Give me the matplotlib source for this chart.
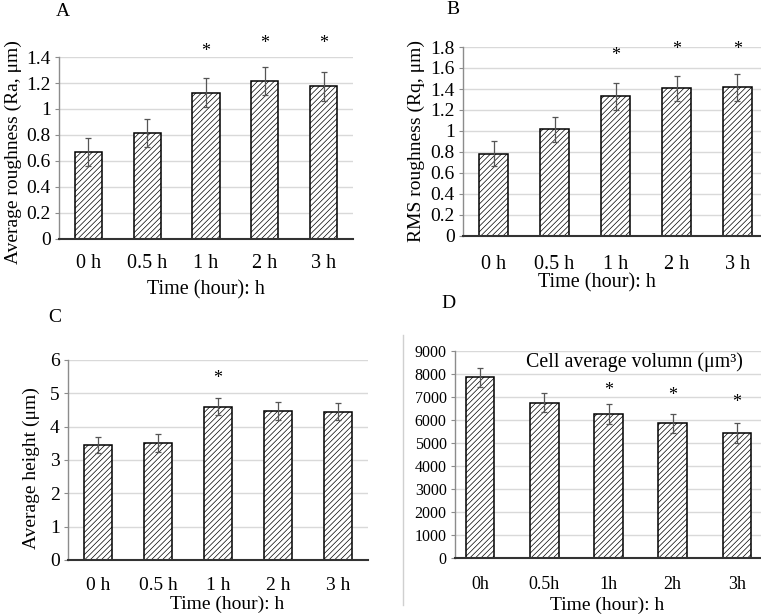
import matplotlib
matplotlib.use("Agg")
import matplotlib.pyplot as plt
from matplotlib import ticker
from matplotlib.lines import Line2D

plt.rcParams['font.family'] = ['Liberation Serif', 'DejaVu Serif']
plt.rcParams['hatch.color'] = '#808080'
plt.rcParams['hatch.linewidth'] = 0.5

# data
times = ["0 h", "0.5 h", "1 h", "2 h", "3 h"]
times_d = ["0h", "0.5h", "1h", "2h", "3h"]

ra = [0.67, 0.815, 1.125, 1.215, 1.175]
ra_err = [0.105, 0.11, 0.11, 0.11, 0.11]
ra_star = [None, None, 1.44, 1.50, 1.50]

rq = [0.785, 1.015, 1.33, 1.405, 1.415]
rq_err = [0.12, 0.12, 0.13, 0.12, 0.13]
rq_star = [None, None, 1.72, 1.78, 1.78]

height = [3.45, 3.51, 4.6, 4.47, 4.45]
height_err = [0.25, 0.26, 0.25, 0.26, 0.25]
height_star = [None, None, 5.45, None, None]

volume = [7860, 6745, 6250, 5860, 5430]
volume_err = [420, 410, 440, 420, 430]
volume_star = [None, None, 7300, 7050, 6750]

W, H = 761, 614
fig = plt.figure(figsize=(W / 100, H / 100), dpi=100)


def make_ax(left, top, right, bottom):
    return fig.add_axes([left / W, 1 - bottom / H, (right - left) / W, (bottom - top) / H])


def panel(ax, labels, vals, errs, stars, ylim, ystep, width, fs_tick, fs_x, xpad, xlim=None):
    x = range(len(vals))
    ax.set_axisbelow(True)
    ax.bar(x, vals, width=width, color='white', edgecolor='black', linewidth=1.1,
           hatch='//////', zorder=2)
    ax.errorbar(x, vals, yerr=errs, fmt='none', ecolor='#555555', elinewidth=0.9,
                capsize=2.2, capthick=0.9, zorder=3)
    for i, s in enumerate(stars):
        if s is not None:
            ax.text(i, s, '*', ha='center', va='center', fontsize=13, zorder=4)
    ax.set_ylim(*ylim)
    if xlim is None:
        xlim = (-0.5, len(vals) - 0.5)
    ax.set_xlim(*xlim)
    ax.yaxis.set_major_locator(ticker.MultipleLocator(ystep))
    ax.yaxis.set_major_formatter(ticker.FormatStrFormatter('%g'))
    ax.set_xticks(list(x))
    ax.set_xticklabels(labels)
    ax.grid(axis='y', color='#d9d9d9', linewidth=1.0)
    for s in ['top', 'right']:
        ax.spines[s].set_visible(False)
    ax.spines['left'].set_color('#8c8c8c')
    ax.spines['left'].set_linewidth(1.0)
    ax.spines['bottom'].set_color('#333333')
    ax.spines['bottom'].set_linewidth(1.5)
    ax.tick_params(axis='x', length=0, pad=xpad, labelsize=fs_x)
    ax.tick_params(axis='y', length=3, color='#8c8c8c', pad=3, labelsize=fs_tick)


# A
axA = make_ax(59, 57, 353, 239)
panel(axA, times, ra, ra_err, ra_star, (0, 1.4), 0.2, 0.46, 14, 14.5, 11)
axA.set_ylabel("Average roughness (Ra, μm)", fontsize=14)
axA.yaxis.set_label_coords(-0.126, 0.48)
axA.set_xlabel("Time (hour): h", fontsize=14.5)
axA.xaxis.set_label_coords(0.5, -0.225)

# B
axB = make_ax(463, 47, 768, 236)
panel(axB, times, rq, rq_err, rq_star, (0, 1.8), 0.2, 0.47, 14, 14.5, 14)
axB.set_ylabel("RMS roughness (Rq, μm)", fontsize=14)
axB.yaxis.set_label_coords(-0.125, 0.5)
axB.set_xlabel("Time (hour): h", fontsize=14.5)
axB.xaxis.set_label_coords(0.44, -0.196)

# C
axC = make_ax(68, 360, 368, 560)
panel(axC, times, height, height_err, height_star, (0, 6), 1, 0.47, 14, 14, 12)
axC.set_ylabel("Average height (μm)", fontsize=14)
axC.yaxis.set_label_coords(-0.093, 0.46)
axC.set_xlabel("Time (hour): h", fontsize=14)
axC.xaxis.set_label_coords(0.53, -0.178)

# D
axD = make_ax(455, 351, 762, 558)
panel(axD, times_d, volume, volume_err, volume_star, (0, 9000), 1000, 0.45, 11.5, 13, 13,
      xlim=(-0.39, 4.39))
axD.set_xlabel("Time (hour): h", fontsize=14)
axD.xaxis.set_label_coords(0.495, -0.185)
axD.text(0.586, 0.947, "Cell average volumn (μm³)", transform=axD.transAxes,
         ha='center', va='center', fontsize=14.3)

# panel letters
for letter, px, py in [("A", 63, 11), ("B", 453, 9), ("C", 55, 317), ("D", 448, 303)]:
    fig.text(px / W, 1 - py / H, letter, ha='center', va='center', fontsize=14)

# thin frame line at the left of panel D
fig.add_artist(Line2D([403 / W, 403 / W], [1 - 335 / H, 1 - 605 / H],
                      color='#d0d0d0', linewidth=1.0))

fig.savefig("out.png", dpi=100)
